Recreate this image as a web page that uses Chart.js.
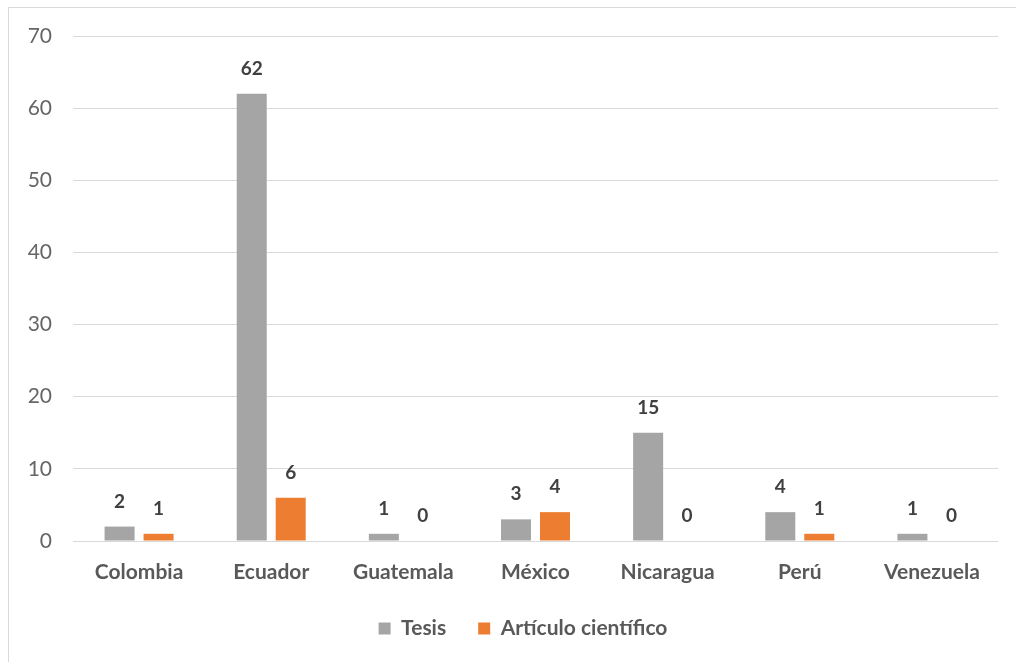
<!DOCTYPE html>
<html>
<head>
<meta charset="utf-8">
<script src="https://cdn.jsdelivr.net/npm/chart.js@4/dist/chart.umd.min.js"></script>
<style>
html,body{margin:0;padding:0;background:#fff;}
#wrap{position:relative;width:1016px;height:662px;overflow:hidden;}
#frame{position:absolute;left:8px;top:7px;width:1100px;height:700px;border-left:1px solid #d9d9d9;border-top:1px solid #d9d9d9;box-sizing:border-box;}
canvas{position:absolute;left:0;top:0;}
</style>
</head>
<body>
<div id="wrap">
<div id="frame"></div>
<canvas id="c" width="1016" height="662"></canvas>
</div>
<script>
const categories = ["Colombia","Ecuador","Guatemala","México","Nicaragua","Perú","Venezuela"];
const tesis = [2,62,1,3,15,4,1];
const articulo = [1,6,0,4,0,1,0];
const seriesNames = ["Tesis","Artículo científico"];
const yTicks = [0,10,20,30,40,50,60,70];

const FONT = "Lato, 'Open Sans', sans-serif";

const valueLabels = {
  id:'valueLabels',
  afterDatasetsDraw(chart){
    const ctx = chart.ctx;
    ctx.save();
    ctx.font = "bold 19px " + FONT;
    ctx.fillStyle = "#404040";
    ctx.textAlign = "center";
    ctx.textBaseline = "middle";
    chart.data.datasets.forEach((ds,i)=>{
      const meta = chart.getDatasetMeta(i);
      meta.data.forEach((el,j)=>{
        ctx.fillText(String(ds.data[j]), el.x, el.y - 25);
      });
    });
    ctx.restore();
  }
};

const legendShift = {
  id:'legendShift',
  afterLayout(chart){
    if (chart.legend) { chart.legend.left += 24; chart.legend.right += 24; }
  }
};

new Chart(document.getElementById('c'), {
  type:'bar',
  data:{
    labels:categories,
    datasets:[
      {label:seriesNames[0], data:tesis, backgroundColor:'#A5A5A5', barPercentage:0.77, categoryPercentage:0.59},
      {label:seriesNames[1], data:articulo, backgroundColor:'#ED7D31', barPercentage:0.77, categoryPercentage:0.59}
    ]
  },
  options:{
    responsive:false,
    animation:false,
    layout:{padding:{top:36,right:18,bottom:13,left:0}},
    scales:{
      x:{
        grid:{display:false, drawTicks:false},
        border:{display:false},
        ticks:{font:{family:FONT,size:21,weight:'bold'}, color:'#595959', padding:19},
        afterFit(s){ s.height = 45; }
      },
      y:{
        min:0,max:70,
        afterBuildTicks(s){ s.ticks = yTicks.map(v=>({value:v})); },
        grid:{color:'#d9d9d9', lineWidth:1, drawTicks:false},
        border:{display:false},
        ticks:{font:{family:FONT,size:21}, color:'#666666', padding:21},
        afterFit(s){ s.width = 73; }
      }
    },
    plugins:{
      legend:{
        position:'bottom',
        labels:{font:{family:FONT,size:21,weight:'bold'}, color:'#595959', boxWidth:12, boxHeight:12, padding:32}
      },
      tooltip:{enabled:false}
    }
  },
  plugins:[valueLabels, legendShift]
});
</script>
</body>
</html>
